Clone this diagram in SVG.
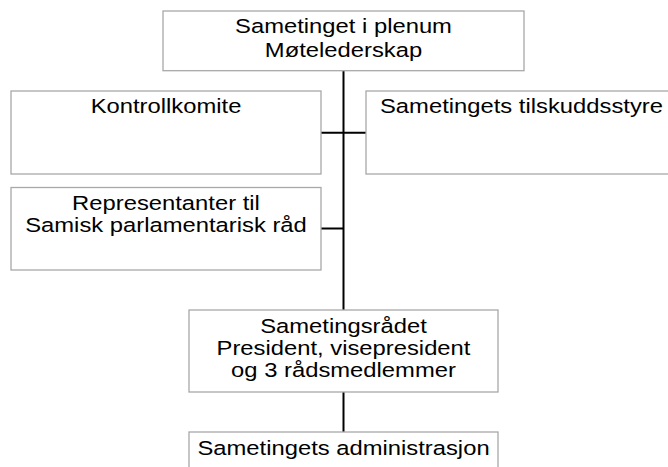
<svg xmlns="http://www.w3.org/2000/svg" width="668" height="467" viewBox="0 0 668 467">
<style>
.box{fill:#ffffff;stroke:#a8a8a8;stroke-width:1.3}
.t{font-family:"Liberation Sans",Arial,sans-serif;font-size:19.5px;fill:#000000;text-anchor:middle}
.s{text-anchor:start}
.c{stroke:#000000;stroke-width:2;fill:none}
</style>
<rect width="668" height="467" fill="#ffffff"/>
<g id="connectors">
<line class="c" x1="343.5" y1="70.7" x2="343.5" y2="310"/>
<line class="c" x1="321" y1="132.7" x2="366" y2="132.7"/>
<line class="c" x1="321" y1="228.5" x2="343.5" y2="228.5"/>
<line class="c" x1="343.5" y1="392" x2="343.5" y2="432"/>
</g>
<g id="plenum">
<rect class="box" x="163" y="11" width="361" height="59.7"/>
<text class="t" transform="matrix(1.22 0 0 1 343.5 33.3)">Sametinget i plenum</text>
<text class="t" transform="matrix(1.22 0 0 1 343.5 56.7)">Møtelederskap</text>
</g>
<g id="kontrollkomite">
<rect class="box" x="11" y="91" width="310" height="83"/>
<text class="t" transform="matrix(1.22 0 0 1 166 113.3)">Kontrollkomite</text>
</g>
<g id="tilskuddsstyre">
<rect class="box" x="366" y="91" width="320" height="83"/>
<text class="t s" transform="matrix(1.22 0 0 1 380 113.3)">Sametingets tilskuddsstyre</text>
</g>
<g id="representanter">
<rect class="box" x="11" y="187.5" width="310" height="82.5"/>
<text class="t" transform="matrix(1.22 0 0 1 166 210)">Representanter til</text>
<text class="t" transform="matrix(1.22 0 0 1 166 232)">Samisk parlamentarisk råd</text>
</g>
<g id="sametingsradet">
<rect class="box" x="189" y="310" width="309" height="82"/>
<text class="t" transform="matrix(1.22 0 0 1 343.5 333)">Sametingsrådet</text>
<text class="t" transform="matrix(1.22 0 0 1 343.5 355)">President, visepresident</text>
<text class="t" transform="matrix(1.22 0 0 1 343.5 377)">og 3 rådsmedlemmer</text>
</g>
<g id="administrasjon">
<rect class="box" x="189" y="432" width="309" height="60"/>
<text class="t" transform="matrix(1.22 0 0 1 343.5 455)">Sametingets administrasjon</text>
</g>
</svg>
